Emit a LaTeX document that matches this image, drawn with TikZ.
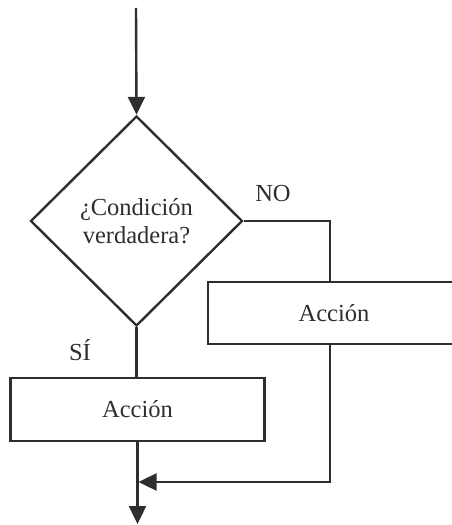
\documentclass[tikz,border=0pt]{standalone}
\usepackage{fontspec}
\setmainfont{Liberation Serif}
\usetikzlibrary{shapes.geometric,arrows.meta}
\begin{document}
\begin{tikzpicture}[x=1pt,y=-1pt,
  ink/.style={draw=black!82, line width=2.4pt},
  txt/.style={text=black!82, font=\fontsize{24.5}{28}\selectfont},
  decision/.style={diamond, ink, txt, minimum width=212pt, minimum height=210pt,
    inner sep=0pt, align=center},
  actionbox/.style={rectangle, ink, txt, inner sep=0pt},
  tip/.style={-{Triangle[length=18pt,width=17pt]}, ink}
]
\useasboundingbox (0,0) rectangle (452,525);

% decision and the two action boxes
\node[decision] (cond) at (136.5,221) {¿Condición\\verdadera?};
\node[actionbox, minimum width=254pt, minimum height=63pt] (yes) at (137.5,409.5) {Acción};
\node[actionbox, minimum width=252pt, minimum height=62pt] (no) at (334,313) {Acción};

% branch labels
\node[txt] (nolbl) at (273,194) {NO};
\node[txt] (silbl) at (80,350) {SÍ};

% helper points
\coordinate (start) at (136,8);
\coordinate (corner) at (330,221);
\coordinate (merge) at (138.5,482);
\coordinate (out) at (137.5,524);

% entry arrow
\draw[tip] (start) -- (cond.north);

% NO branch
\draw[ink] (cond.east) -- (corner) -- (corner |- no.north);
\draw[tip] (corner |- no.south) -- (corner |- merge) -- (merge);

% SÍ branch
\draw[ink] (cond.south) -- (cond.south |- yes.north);
\draw[tip] (yes.south) -- (out);
\end{tikzpicture}
\end{document}
